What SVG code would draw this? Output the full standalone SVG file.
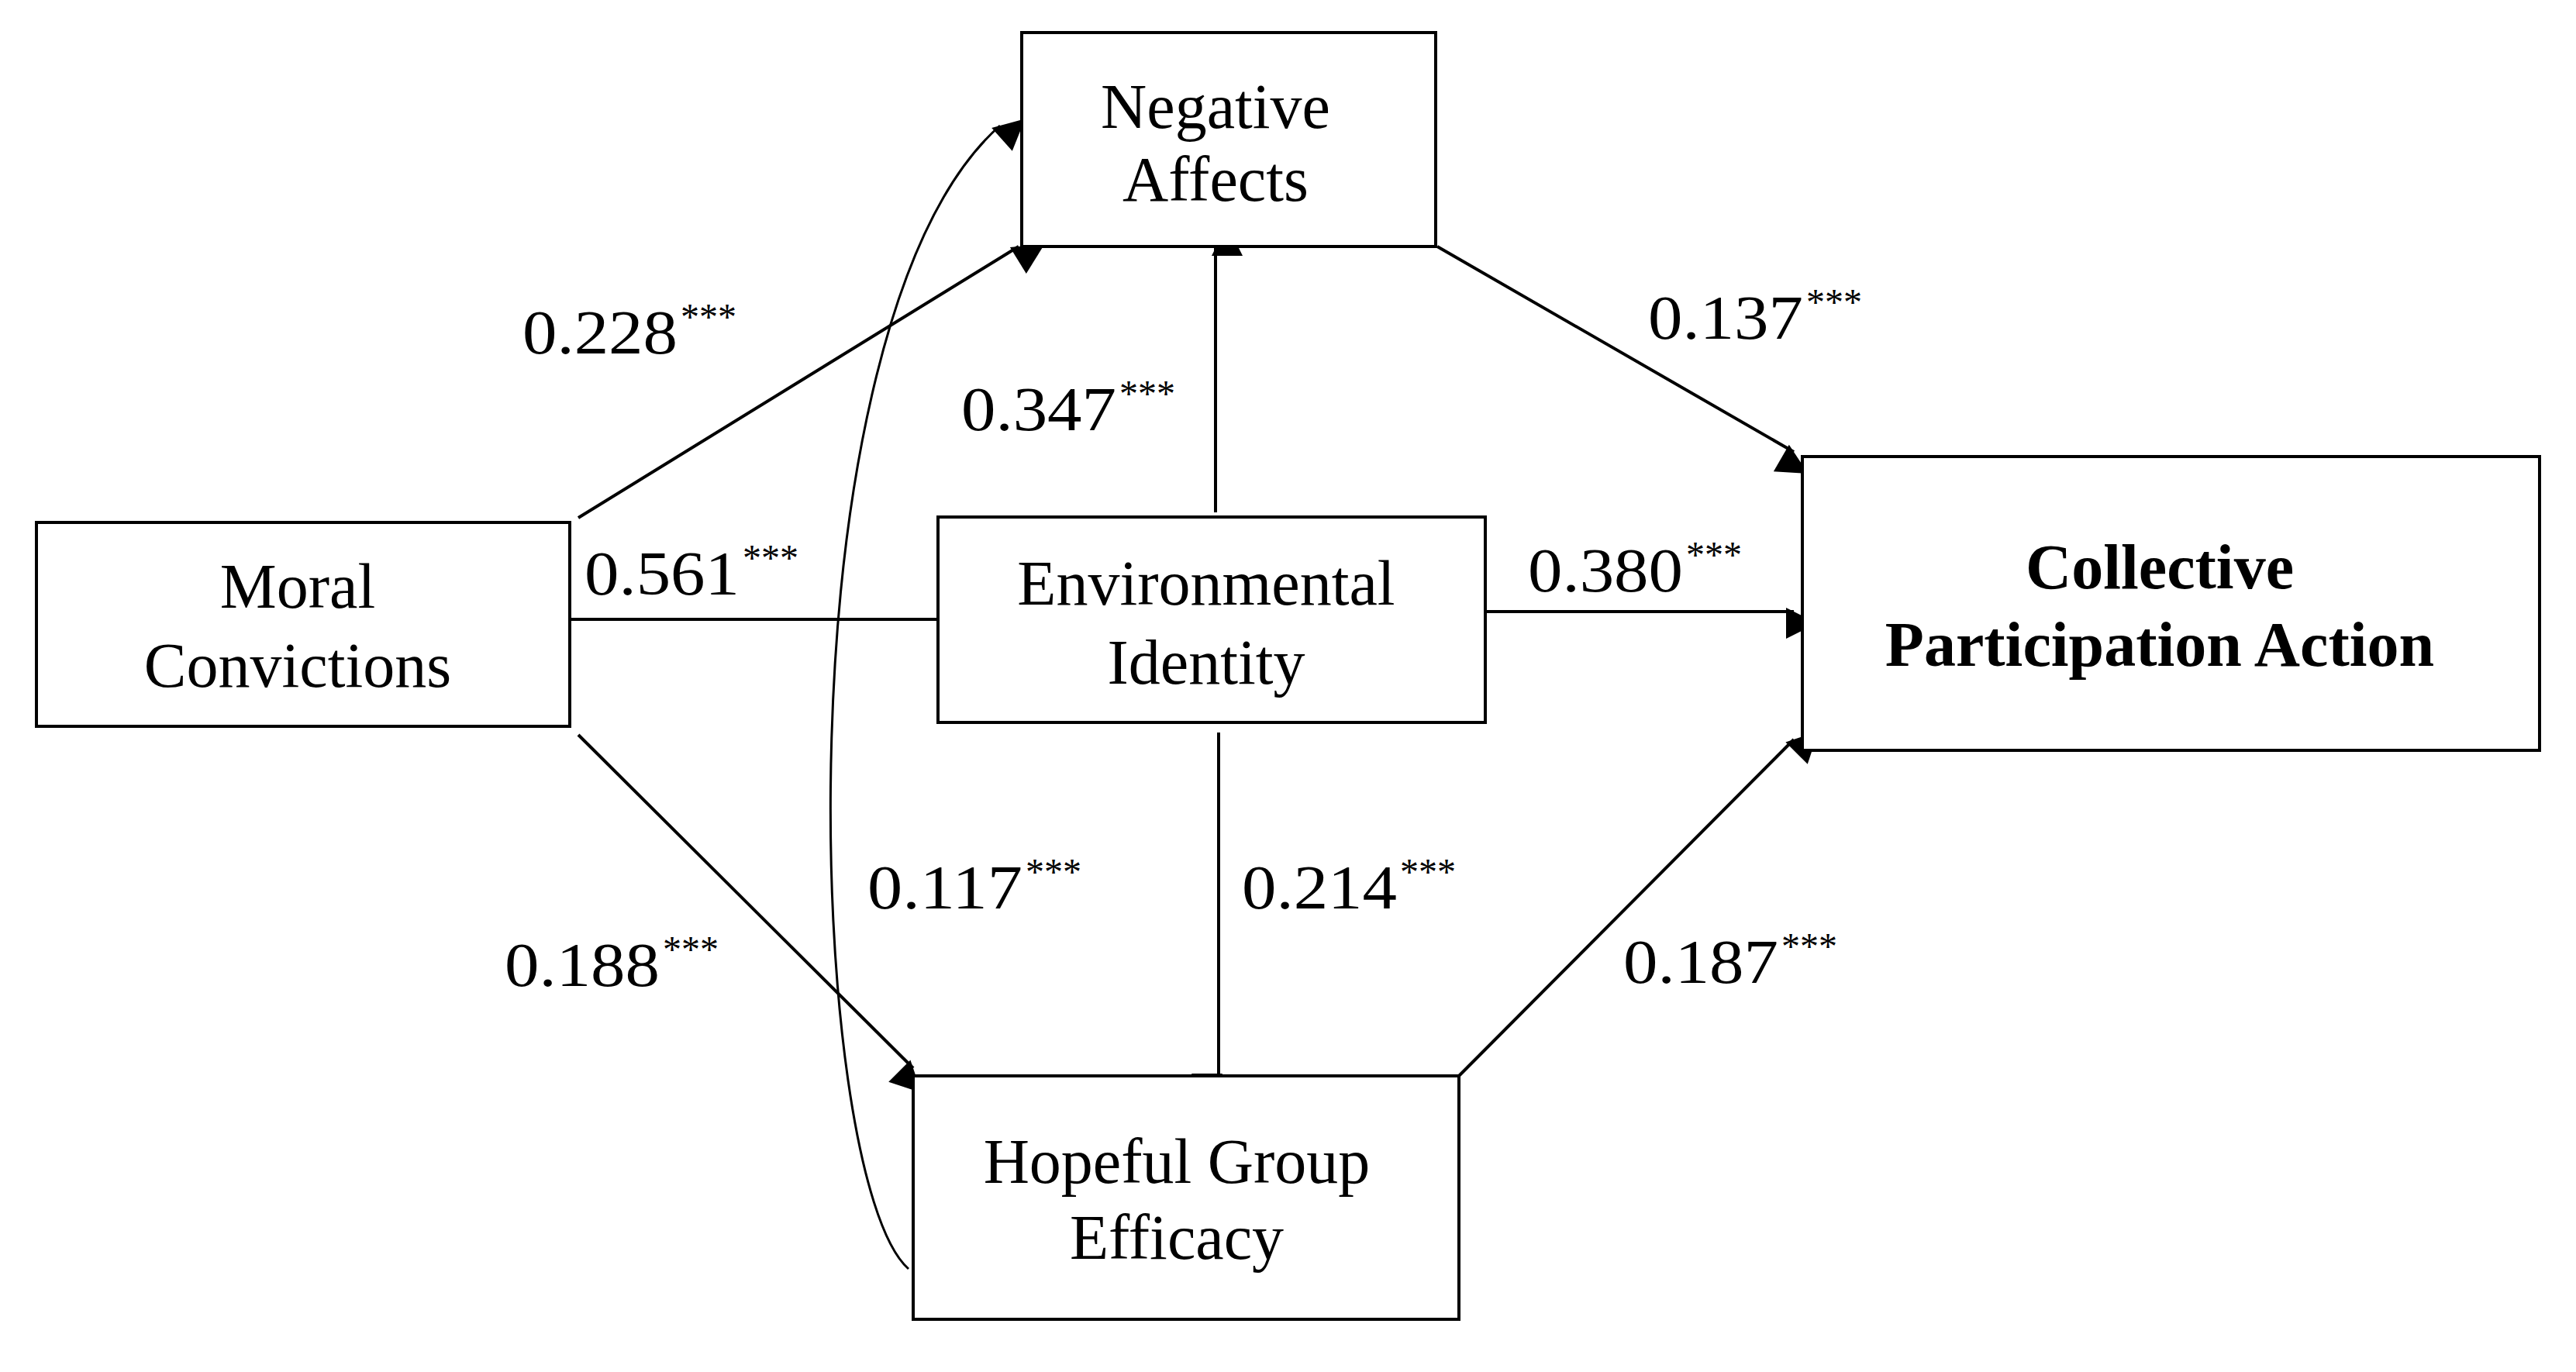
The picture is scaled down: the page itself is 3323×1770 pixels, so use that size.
<svg xmlns="http://www.w3.org/2000/svg" width="3323" height="1770" viewBox="0 0 3323 1770">
<defs>
<style>
.box{fill:#fff;stroke:#000;stroke-width:4}
.lbl{font-family:"Liberation Serif",serif;font-size:82px;text-anchor:middle;fill:#000}
.b{font-weight:bold}
.num{font-family:"Liberation Serif",serif;font-size:80px;fill:#000}
.st{font-family:"Liberation Serif",serif;font-size:48px;fill:#000}
.c{fill:none;stroke:#000;stroke-width:4;marker-end:url(#ah)}
.c2{fill:none;stroke:#000;stroke-width:3;marker-end:url(#ah)}
</style>
<marker id="ah" viewBox="0 0 10 10" refX="10" refY="5" markerWidth="10" markerHeight="10" markerUnits="userSpaceOnUse" orient="auto" style="overflow:visible">
<path d="M0,0 L10,5 L0,10 z" transform="scale(4)" fill="#000"/>
</marker>
</defs>
<rect width="3323" height="1770" fill="#fff"/>
<g id="connectors">
<line class="c" x1="746" y1="668" x2="1314" y2="318"/>
<line class="c" x1="735" y1="799" x2="1223" y2="799"/>
<line class="c" x1="746" y1="948" x2="1178" y2="1378"/>
<line class="c" x1="1568" y1="661" x2="1568" y2="320"/>
<line class="c" x1="1572" y1="945" x2="1572" y2="1395"/>
<line class="c" x1="1918" y1="789" x2="2314" y2="789"/>
<line class="c" x1="1854" y1="318" x2="2314" y2="583"/>
<line class="c" x1="1882" y1="1388" x2="2314" y2="954"/>
<path class="c2" d="M1172,1637 C1040,1520 1000,420 1290,162"/>
</g>
<g id="labels">
<text class="num" x="674" y="456" textLength="200" lengthAdjust="spacingAndGlyphs">0.228</text><text class="st" x="878" y="425">***</text>
<text class="num" x="1240" y="555" textLength="200" lengthAdjust="spacingAndGlyphs">0.347</text><text class="st" x="1444" y="524">***</text>
<text class="num" x="2126" y="437" textLength="200" lengthAdjust="spacingAndGlyphs">0.137</text><text class="st" x="2330" y="406">***</text>
<text class="num" x="754" y="767" textLength="200" lengthAdjust="spacingAndGlyphs">0.561</text><text class="st" x="958" y="736">***</text>
<text class="num" x="1971" y="763" textLength="200" lengthAdjust="spacingAndGlyphs">0.380</text><text class="st" x="2175" y="732">***</text>
<text class="num" x="1119" y="1172" textLength="200" lengthAdjust="spacingAndGlyphs">0.117</text><text class="st" x="1323" y="1141">***</text>
<text class="num" x="1602" y="1172" textLength="200" lengthAdjust="spacingAndGlyphs">0.214</text><text class="st" x="1806" y="1141">***</text>
<text class="num" x="651" y="1272" textLength="200" lengthAdjust="spacingAndGlyphs">0.188</text><text class="st" x="855" y="1241">***</text>
<text class="num" x="2094" y="1268" textLength="200" lengthAdjust="spacingAndGlyphs">0.187</text><text class="st" x="2298" y="1237">***</text>
</g>
<g id="negative-affects">
<rect class="box" x="1318" y="42" width="534" height="276"/>
<text class="lbl" x="1568" y="165">Negative</text>
<text class="lbl" x="1568" y="259">Affects</text>
</g>
<g id="moral-convictions">
<rect class="box" x="47" y="674" width="688" height="263"/>
<text class="lbl" x="384" y="784">Moral</text>
<text class="lbl" x="384" y="886">Convictions</text>
</g>
<g id="environmental-identity">
<rect class="box" x="1210" y="667" width="706" height="265"/>
<text class="lbl" x="1556" y="780">Environmental</text>
<text class="lbl" x="1556" y="882">Identity</text>
</g>
<g id="collective-participation-action">
<rect class="box" x="2325" y="589" width="951" height="379"/>
<text class="lbl b" x="2786" y="759">Collective</text>
<text class="lbl b" x="2786" y="859">Participation Action</text>
</g>
<g id="hopeful-group-efficacy">
<rect class="box" x="1178" y="1388" width="704" height="314"/>
<text class="lbl" x="1518" y="1526">Hopeful Group</text>
<text class="lbl" x="1518" y="1624">Efficacy</text>
</g>
</svg>
